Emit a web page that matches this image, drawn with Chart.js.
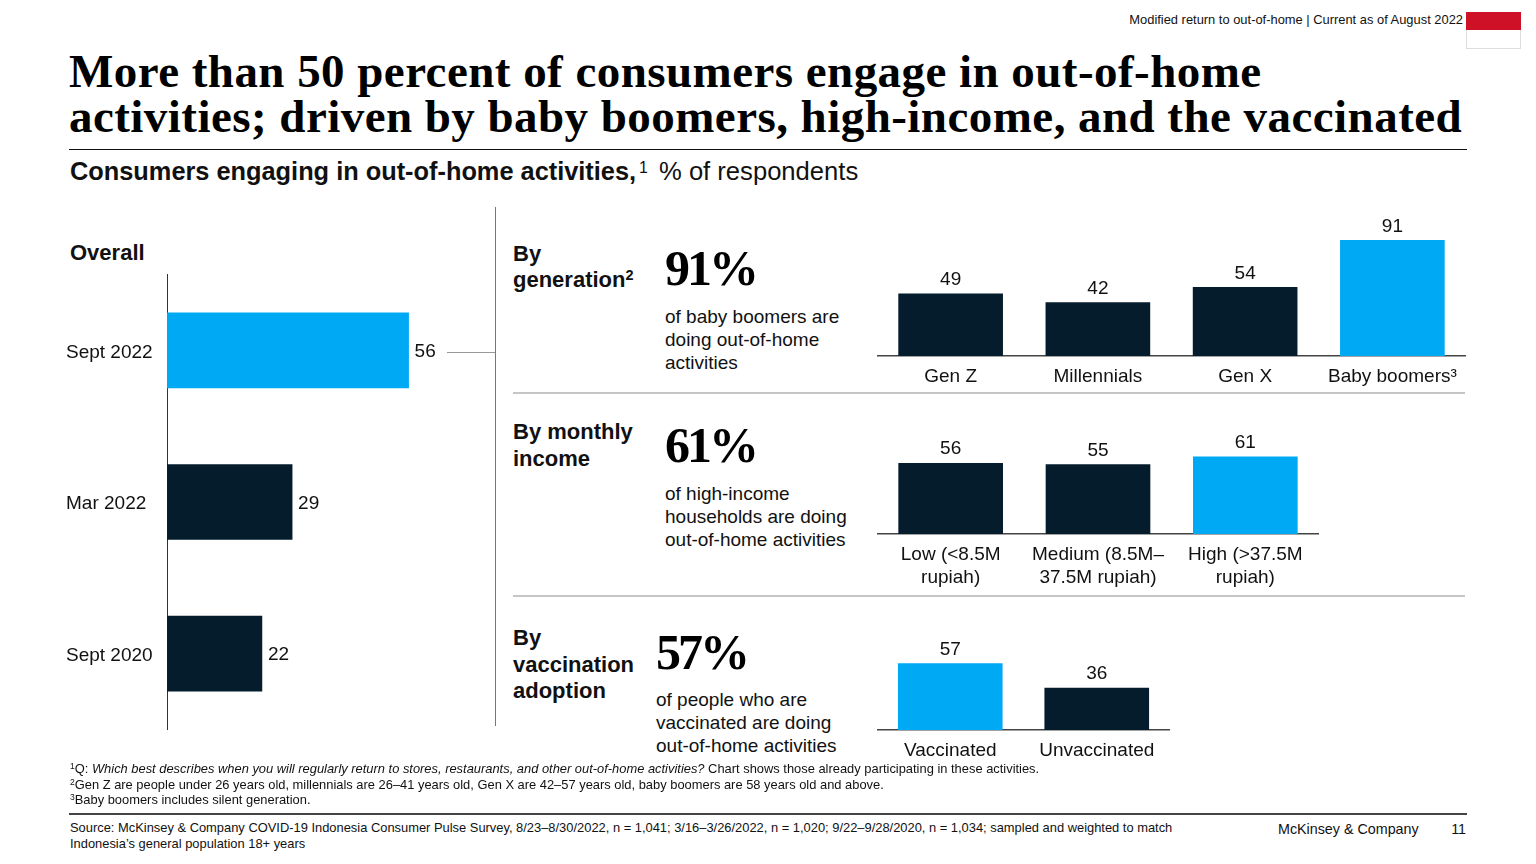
<!DOCTYPE html>
<html>
<head>
<meta charset="utf-8">
<title>Out-of-home activities</title>
<script src="https://cdn.jsdelivr.net/npm/chart.js@4"></script>
<style>
  html, body { margin: 0; padding: 0; background: #fff; }
  body { width: 1536px; height: 864px; position: relative; overflow: hidden; font-family: "Liberation Sans", Arial, sans-serif; color: #111; }
  .t { position: absolute; white-space: nowrap; }
  .rule { position: absolute; }
  canvas { position: absolute; }
  sup { font-size: 66%; line-height: 0; vertical-align: baseline; position: relative; top: -0.45em; }
  .title { left: 69px; top: 49px; font: bold 47px/45px "Liberation Serif", serif; letter-spacing: 0.45px; color: #000; }
  .head { left: 70px; font-size: 22px; line-height: 26.5px; font-weight: bold; }
  .big { font: bold 50px/54px "Liberation Serif", serif; letter-spacing: -3px; color: #000; }
  .desc { font-size: 19px; line-height: 23px; }
  .note { left: 70px; font-size: 12.9px; line-height: 16px; }
</style>
</head>
<body>
<div class="t" style="right:73px;top:12px;font-size:12.9px;line-height:15px">Modified return to out-of-home | Current as of August 2022</div>
<div class="rule" style="left:1466px;top:12px;width:53px;height:35px;border:1px solid #ddd"></div>
<div class="rule" style="left:1466px;top:12px;width:55px;height:18px;background:#ce1126"></div>

<div class="t title">More than 50 percent of consumers engage in out-of-home<br>activities; driven by baby boomers, high-income, and the vaccinated</div>
<div class="rule" style="left:69px;top:149px;width:1398px;height:1px;background:#111"></div>
<div class="t" style="left:70px;top:156px;font-size:25.6px;line-height:30px"><b style="font-size:25.35px">Consumers engaging in out-of-home activities,</b><sup style="margin:0 4px 0 3px;font-size:62%">1</sup> % of respondents</div>

<div class="t head" style="top:240px">Overall</div>
<div class="rule" style="left:495px;top:207px;width:1px;height:519px;background:#777"></div>
<div class="rule" style="left:447px;top:352px;width:48px;height:1px;background:#999"></div>

<div class="t head" style="left:513px;top:240.5px">By<br>generation<sup>2</sup></div>
<div class="t big" style="left:665px;top:241px">91%</div>
<div class="t desc" style="left:665px;top:305px">of baby boomers are<br>doing out-of-home<br>activities</div>
<div class="rule" style="left:513px;top:392px;width:952px;height:2px;background:#c6c6c6"></div>

<div class="t head" style="left:513px;top:419px">By monthly<br>income</div>
<div class="t big" style="left:665px;top:418px">61%</div>
<div class="t desc" style="left:665px;top:482px">of high-income<br>households are doing<br>out-of-home activities</div>
<div class="rule" style="left:513px;top:595px;width:952px;height:2px;background:#c6c6c6"></div>

<div class="t head" style="left:513px;top:625px">By<br>vaccination<br>adoption</div>
<div class="t big" style="left:656px;top:625px">57%</div>
<div class="t desc" style="left:656px;top:688px">of people who are<br>vaccinated are doing<br>out-of-home activities</div>

<canvas id="overallChart" width="403" height="506" style="left:66px;top:249px"></canvas>
<canvas id="generationChart" width="589" height="200" style="left:877px;top:206px"></canvas>
<canvas id="incomeChart" width="442" height="240" style="left:877px;top:376px"></canvas>
<canvas id="vaccinationChart" width="293" height="160" style="left:877px;top:610px"></canvas>

<div class="t note" style="top:761px"><sup>1</sup>Q: <i>Which best describes when you will regularly return to stores, restaurants, and other out-of-home activities?</i> Chart shows those already participating in these activities.</div>
<div class="t note" style="top:777px"><sup>2</sup>Gen Z are people under 26 years old, millennials are 26–41 years old, Gen X are 42–57 years old, baby boomers are 58 years old and above.</div>
<div class="t note" style="top:792px"><sup>3</sup>Baby boomers includes silent generation.</div>
<div class="rule" style="left:69px;top:813px;width:1398px;height:1.5px;background:#444"></div>
<div class="t note" style="top:820px">Source: McKinsey &amp; Company COVID-19 Indonesia Consumer Pulse Survey, 8/23–8/30/2022, n = 1,041; 3/16–3/26/2022, n = 1,020; 9/22–9/28/2020, n = 1,034; sampled and weighted to match</div>
<div class="t note" style="top:836px">Indonesia’s general population 18+ years</div>
<div class="t" style="left:1278px;top:821px;font-size:14.3px;line-height:17px">McKinsey &amp; Company</div>
<div class="t" style="right:70px;top:821px;font-size:14.3px;line-height:17px">11</div>

<script>
const overallLabels = ['Sept 2022', 'Mar 2022', 'Sept 2020'];
const overallValues = [56, 29, 22];
const overallHighlight = 0;

const generationLabels = ['Gen Z', 'Millennials', 'Gen X', 'Baby boomers³'];
const generationValues = [49, 42, 54, 91];
const generationHighlight = 3;

const incomeLabels = [['Low (<8.5M', 'rupiah)'], ['Medium (8.5M–', '37.5M rupiah)'], ['High (>37.5M', 'rupiah)']];
const incomeValues = [56, 55, 61];
const incomeHighlight = 2;

const vaccinationLabels = ['Vaccinated', 'Unvaccinated'];
const vaccinationValues = [57, 36];
const vaccinationHighlight = 0;

const DARK = '#051c2c';
const BLUE = '#00a9f4';
const FONT = { family: '"Liberation Sans", Arial, sans-serif', size: 19, lineHeight: 1.21 };

function barColors(values, highlight){
  return values.map((v, i) => i === highlight ? BLUE : DARK);
}

// draws the number next to each bar, no datalabels plugin here
const valueLabels = {
  id: 'valueLabels',
  afterDatasetsDraw(chart){
    const ctx = chart.ctx;
    const horizontal = chart.options.indexAxis === 'y';
    ctx.save();
    ctx.font = '19px ' + FONT.family;
    ctx.fillStyle = '#111';
    chart.getDatasetMeta(0).data.forEach((bar, i) => {
      const v = chart.data.datasets[0].data[i];
      if(horizontal){
        ctx.textAlign = 'left';
        ctx.textBaseline = 'middle';
        ctx.fillText(v, bar.x + 6, bar.y + 1.5);
      } else {
        ctx.textAlign = 'center';
        ctx.textBaseline = 'middle';
        ctx.fillText(v, bar.x, bar.y - 14);
      }
    });
    ctx.restore();
  }
};

new Chart(document.getElementById('overallChart'), {
  type: 'bar',
  plugins: [valueLabels],
  data: {
    labels: overallLabels,
    datasets: [{ data: overallValues, backgroundColor: barColors(overallValues, overallHighlight), barThickness: 75 }]
  },
  options: {
    indexAxis: 'y',
    responsive: false,
    animation: false,
    layout: { padding: { top: 10, bottom: 10, left: 0, right: 0 } },
    plugins: { legend: { display: false }, tooltip: { enabled: false } },
    scales: {
      x: { display: false, min: 0, max: 70 },
      y: {
        afterFit(scale){ scale.width = 101; },
        grid: { drawOnChartArea: false, drawTicks: false },
        border: { color: '#333', width: 1 },
        ticks: { color: '#111', font: FONT, crossAlign: 'far', padding: 14, labelOffset: 2 }
      }
    }
  }
});

function columnChart(id, labels, values, highlight, yMax, thickness, axisHeight){
  return new Chart(document.getElementById(id), {
    type: 'bar',
    plugins: [valueLabels],
    data: {
      labels: labels,
      datasets: [{ data: values, backgroundColor: barColors(values, highlight), barThickness: thickness }]
    },
    options: {
      responsive: false,
      animation: false,
      layout: { padding: 0 },
      plugins: { legend: { display: false }, tooltip: { enabled: false } },
      scales: {
        y: { display: false, min: 0, max: yMax },
        x: {
          afterFit(scale){ scale.height = axisHeight; },
          grid: { drawOnChartArea: false, drawTicks: false },
          border: { color: '#444', width: 1.5 },
          ticks: { color: '#111', font: FONT, padding: 9, maxRotation: 0, autoSkip: false }
        }
      }
    }
  });
}

// canvas height minus axisHeight sets where the baseline lands
columnChart('generationChart', generationLabels, generationValues, generationHighlight, 118, 104, 50);
columnChart('incomeChart', incomeLabels, incomeValues, incomeHighlight, 125, 104, 82);
columnChart('vaccinationChart', vaccinationLabels, vaccinationValues, vaccinationHighlight, 103, 104, 40);
</script>
</body>
</html>
